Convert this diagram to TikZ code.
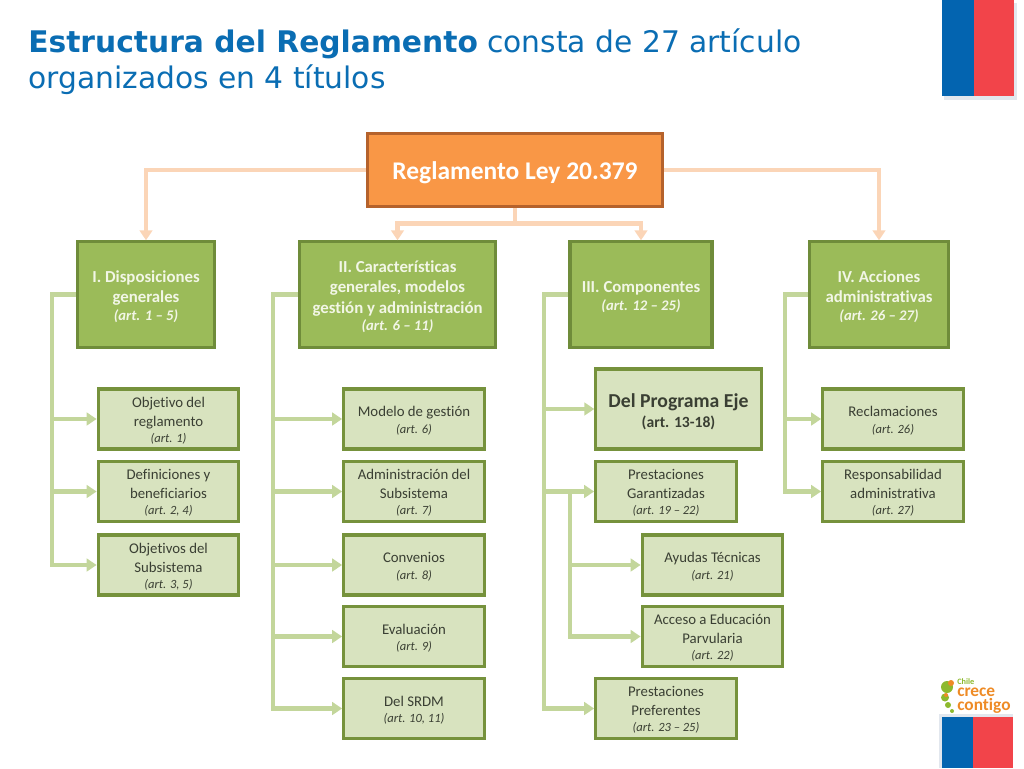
\documentclass[tikz,border=0pt]{standalone}
\usepackage{fontspec}
\setmainfont[Ligatures={CommonOff,TeX}]{Carlito}
\newfontfamily\titlefont{DejaVu Sans}
\usetikzlibrary{arrows.meta}
\definecolor{tblue}{HTML}{0A6DB3}
\definecolor{fblue}{HTML}{0364B0}
\definecolor{fred}{HTML}{F2444A}
\definecolor{fshadow}{HTML}{E2E7EE}
\definecolor{rootfill}{HTML}{F99746}
\definecolor{rootline}{HTML}{B5622C}
\definecolor{peach}{HTML}{FBD5B7}
\definecolor{parfill}{HTML}{9BBB59}
\definecolor{parline}{HTML}{6F8C3A}
\definecolor{subfill}{HTML}{D8E3BF}
\definecolor{subline}{HTML}{76923C}
\definecolor{wire}{HTML}{C3D69B}
\definecolor{subtext}{HTML}{3A3F33}
\definecolor{partext}{HTML}{F2F6E6}
\definecolor{logoor}{HTML}{EE8B26}
\definecolor{logogr}{HTML}{8DB92E}
\newcommand{\fsz}[2]{\fontsize{#1}{#2}\selectfont}
% invisible struts: a taller first line moves the centred text block down
\newcommand{\Ts}{\rule{0pt}{10.2pt}}
\newcommand{\Tp}{\rule{0pt}{12pt}}
\newcommand{\Tr}{\rule{0pt}{17.6pt}}
\newcommand{\Tb}{\rule{0pt}{14pt}}
\tikzset{
  rootbox/.style={draw=rootline,line width=2.4pt,fill=rootfill,text=white,font=\fsz{19.1}{22}\bfseries,align=center,inner sep=0pt,minimum width=221pt,minimum height=55pt},
  parbox/.style={draw=parline,line width=2.3pt,fill=parfill,text=partext,font=\fsz{12.6}{15.4}\bfseries,align=center,inner sep=0pt,minimum height=79pt},
  subbox/.style={draw=subline,line width=2.3pt,fill=subfill,text=subtext,font=\fsz{11.1}{13.9},align=center,inner sep=0pt,minimum width=105.5pt,minimum height=45pt},
  bigbox/.style={draw=subline,line width=2.3pt,fill=subfill,text=subtext,align=center,inner sep=0pt,minimum width=124pt,minimum height=60pt},
  peachline/.style={draw=peach,line width=3.2pt},
  peacharrow/.style={peachline,-{Triangle[length=7.5pt,width=9.5pt]}},
  wireline/.style={draw=wire,line width=3.2pt},
  wirearrow/.style={wireline,-{Triangle[length=7.5pt,width=9.5pt]}},
  titletext/.style={anchor=base west,inner sep=0pt,font=\titlefont\fsz{22.3}{28},text=tblue},
  logotext/.style={anchor=base west,inner sep=0pt,text=logoor,align=left,font=\fsz{13}{9}\bfseries}
}
\newcommand{\art}[1]{\\[-1.6pt]{\fsz{9.4}{12}\itshape #1}}
\newcommand{\partart}[1]{\\[-2.2pt]{\fsz{11}{13}\itshape\bfseries #1}}
\begin{document}
\begin{tikzpicture}[x=0.75pt,y=-0.75pt]
\useasboundingbox (0,0) rectangle (1024,768);
% flags
\fill[fshadow] (944,3) rectangle (1017,100);
\fill[fblue] (942,0) rectangle (974,96);
\fill[fred] (974,0) rectangle (1014,96);
\fill[fshadow] (939,714) rectangle (1013,768);
\fill[fblue] (942,717) rectangle (973,768);
\fill[fred] (973,717) rectangle (1013,768);
% title
\node[titletext] (t1) at (28,52) {\textbf{Estructura del Reglamento} consta de 27 artículo};
\node[titletext] (t2) at (28,88) {organizados en 4 títulos};
% root and parents
\node[rootbox] (root) at (515,170) {\Tr Reglamento Ley 20.379};
\node[parbox,minimum width=102.5pt] (p1) at (146,294.5) {\Tp I. Disposiciones\\generales\partart{(art. 1 – 5)}};
\node[parbox,minimum width=147.5pt] (p2) at (397.5,294.5) {\Tp II. Características\\generales, modelos\\gestión y administración\partart{(art. 6 – 11)}};
\node[parbox,minimum width=106.5pt] (p3) at (641,294.5) {\Tp III. Componentes\partart{(art. 12 – 25)}};
\node[parbox,minimum width=104pt] (p4) at (879,294.5) {\Tp IV. Acciones\\administrativas\partart{(art. 26 – 27)}};
% column I
\node[subbox] (a1) at (168.5,419) {\Ts Objetivo del\\reglamento\art{(art. 1)}};
\node[subbox] (a2) at (168.5,491.5) {\Ts Definiciones y\\beneficiarios\art{(art. 2, 4)}};
\node[subbox] (a3) at (168.5,565) {\Ts Objetivos del\\Subsistema\art{(art. 3, 5)}};
% column II
\node[subbox] (b1) at (414,419) {\Ts Modelo de gestión\art{(art. 6)}};
\node[subbox] (b2) at (414,491.5) {\Ts Administración del\\Subsistema\art{(art. 7)}};
\node[subbox] (b3) at (414,565) {\Ts Convenios\art{(art. 8)}};
\node[subbox] (b4) at (414,636.5) {\Ts Evaluación\art{(art. 9)}};
\node[subbox] (b5) at (414,708.5) {\Ts Del SRDM\art{(art. 10, 11)}};
% column III
\node[bigbox] (c1) at (678.5,409) {{\fsz{14.8}{17}\bfseries\Tb Del Programa Eje}\\[3pt]{\fsz{11.7}{14}\bfseries (art. 13-18)}};
\node[subbox] (c2) at (666,491.5) {\Ts Prestaciones\\Garantizadas\art{(art. 19 – 22)}};
\node[subbox] (c3) at (712.5,565) {\Ts Ayudas Técnicas\art{(art. 21)}};
\node[subbox] (c4) at (712.5,636.5) {\Ts Acceso a Educación\\Parvularia\art{(art. 22)}};
\node[subbox] (c5) at (666,708.5) {\Ts Prestaciones\\Preferentes\art{(art. 23 – 25)}};
% column IV
\node[subbox] (d1) at (893,419) {\Ts Reclamaciones\art{(art. 26)}};
\node[subbox] (d2) at (893,491.5) {\Ts Responsabilidad\\administrativa\art{(art. 27)}};
% root connectors
\draw[peacharrow] (root.west) -| (p1.north);
\draw[peacharrow] (root.east) -| (p4.north);
\coordinate (rj) at (515,223.5);
\draw[peachline] (root.south) -- (rj);
\draw[peacharrow] (rj) -| (p2.north);
\draw[peacharrow] (rj) -| (p3.north);
% trunks
\coordinate (ta) at (52,294.5);
\coordinate (tb) at (273,294.5);
\coordinate (tc) at (544,294.5);
\coordinate (td) at (785,294.5);
\coordinate (te) at (570,491.5);
\draw[wirearrow] (p1.west) -- (ta) |- (a3.west);
\draw[wirearrow] (ta |- a1.west) -- (a1.west);
\draw[wirearrow] (ta |- a2.west) -- (a2.west);
\draw[wirearrow] (p2.west) -- (tb) |- (b5.west);
\draw[wirearrow] (tb |- b1.west) -- (b1.west);
\draw[wirearrow] (tb |- b2.west) -- (b2.west);
\draw[wirearrow] (tb |- b3.west) -- (b3.west);
\draw[wirearrow] (tb |- b4.west) -- (b4.west);
\draw[wirearrow] (p3.west) -- (tc) |- (c5.west);
\draw[wirearrow] (tc |- c1.west) -- (c1.west);
\draw[wirearrow] (tc |- c2.west) -- (c2.west);
\draw[wirearrow] (te) |- (c4.west);
\draw[wirearrow] (te |- c3.west) -- (c3.west);
\draw[wirearrow] (p4.west) -- (td) |- (d2.west);
\draw[wirearrow] (td |- d1.west) -- (d1.west);
% logo
\fill[logogr] (947,687) circle (6);
\fill[logoor] (951,683) circle (3);
\fill[logogr] (945,697.5) circle (4);
\fill[logoor] (946,695) circle (2);
\fill[logogr] (948,705) circle (3);
\fill[logogr] (952,711) circle (2);
\node[logotext] (logo) at (957,710) {{\fsz{6.2}{9}\color{logogr}Chile}\\crece\\contigo};
\end{tikzpicture}
\end{document}
